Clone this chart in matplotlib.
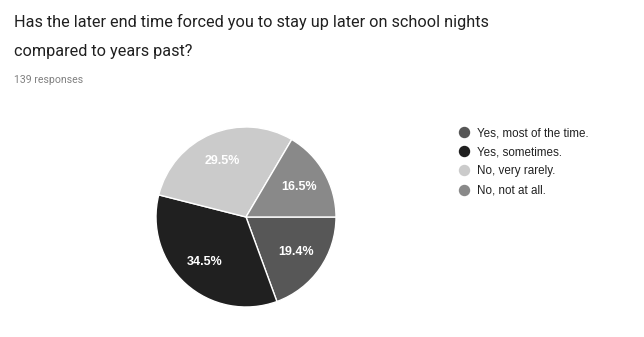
import matplotlib.pyplot as plt
from matplotlib.lines import Line2D

TITLE_LINES = ["Has the later end time forced you to stay up later on school nights",
               "compared to years past?"]
SUBTITLE = "139 responses"
LABELS = ["Yes, most of the time.", "Yes, sometimes.", "No, very rarely.", "No, not at all."]
SHARES = [19.4, 34.5, 29.5, 16.5]
COLORS = ["#575757", "#202020", "#cbcbcb", "#898989"]


def main():
    fig = plt.figure(figsize=(6.44, 3.37), dpi=100)
    fig.patch.set_facecolor("white")

    # title, two lines placed by baseline
    for line, base in zip(TITLE_LINES, [27, 56]):
        fig.text(14 / 644, 1 - base / 337, line, fontsize=11.7, family="Roboto",
                 color="#202020", va="baseline", ha="left")
    fig.text(14 / 644, 1 - 83 / 337, SUBTITLE, fontsize=7.6, family="Roboto",
             color="#808080", va="baseline", ha="left")

    # pie: centre (246, 217) px, radius 90 px
    cx, cy, r = 246, 217, 90
    ax = fig.add_axes([(cx - r) / 644, (337 - cy - r) / 337, 2 * r / 644, 2 * r / 337])
    ax.pie(
        SHARES, colors=COLORS, startangle=0, counterclock=False,
        autopct="%.1f%%", pctdistance=0.68, radius=1.0,
        wedgeprops={"edgecolor": "white", "linewidth": 1.0},
        textprops={"color": "white", "fontsize": 9, "family": "Liberation Sans",
                   "fontweight": "bold"})
    ax.set_xlim(-1, 1)
    ax.set_ylim(-1, 1)
    ax.set_aspect("equal")

    handles = [Line2D([], [], marker="o", linestyle="none", markersize=7.2,
                      markerfacecolor=c, markeredgecolor=c) for c in COLORS]
    fig.legend(handles, LABELS, loc="upper left",
               bbox_to_anchor=(459 / 644, 1 - 127 / 337), frameon=False,
               handlelength=0.8, handletextpad=0.75, labelspacing=0.62,
               borderpad=0, borderaxespad=0,
               prop={"family": "Liberation Sans", "size": 8.4}, labelcolor="#222222")

    fig.savefig("out.png", dpi=100)
    plt.close(fig)


if __name__ == "__main__":
    main()
